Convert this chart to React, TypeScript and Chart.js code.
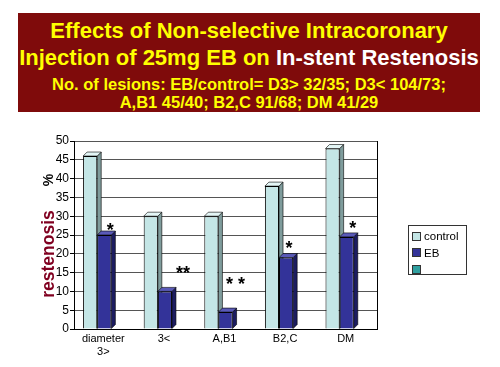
import { useEffect, useRef } from 'react';
import { Chart, registerables } from 'chart.js';
Chart.register(...registerables);

const categories: (string | string[])[] = [['diameter', '3>'], '3<', 'A,B1', 'B2,C', 'DM'];
const controlValues = [46, 30, 30, 38, 48];
const ebValues = [25, 10, 4.5, 19, 24.5];
const thirdValues: (number | null)[] = [null, null, null, null, null];
const seriesLabels = ['control', 'EB', ''];
const seriesColors = ['#c4e6e6', '#333399', '#2f9f9f'];
const sideColors = ['#7f9c9c', '#1c1c60', '#206060'];
const topColors = ['#e4f6f6', '#5a5ab8', '#50b0b0'];
const significance = ['*', '**', '* *', '*', '*'];
const significanceAt = [27.5, 16, 13, 22.5, 28];
const significanceShift = [6, 18, 10, 3, 6];
const yMax = 50;
const yStep = 5;

const FONT = '"Liberation Sans", Arial, sans-serif';

const App = () => {
  const ref = useRef<HTMLCanvasElement>(null);
  useEffect(() => {
    if (!ref.current) return;
    const depth = 4;
    const plugin = {
      id: 'threeD',
      beforeDatasetsDraw(chart: any) {
        const ctx = chart.ctx;
        const a = chart.chartArea;
        ctx.save();
        ctx.strokeStyle = '#000';
        ctx.lineWidth = 1;
        ctx.beginPath();
        ctx.moveTo(Math.round(a.right) + 0.5, a.top);
        ctx.lineTo(Math.round(a.right) + 0.5, a.bottom);
        ctx.stroke();
        [0, 1].forEach((di) => {
          const meta = chart.getDatasetMeta(di);
          meta.data.forEach((el: any) => {
            if (el.y == null || isNaN(el.y)) return;
            const w = el.width;
            const l = el.x - w / 2;
            const r = el.x + w / 2;
            const y = el.y;
            const b = el.base;
            ctx.lineWidth = 0.6;
            ctx.strokeStyle = '#000';
            ctx.fillStyle = sideColors[di];
            ctx.beginPath();
            ctx.moveTo(r, y);
            ctx.lineTo(r + depth, y - depth);
            ctx.lineTo(r + depth, b - depth);
            ctx.lineTo(r, b);
            ctx.closePath();
            ctx.fill();
            ctx.stroke();
            ctx.fillStyle = topColors[di];
            ctx.beginPath();
            ctx.moveTo(l, y);
            ctx.lineTo(l + depth, y - depth);
            ctx.lineTo(r + depth, y - depth);
            ctx.lineTo(r, y);
            ctx.closePath();
            ctx.fill();
            ctx.stroke();
          });
        });
        ctx.restore();
      },
      afterDatasetsDraw(chart: any) {
        const ctx = chart.ctx;
        const meta = chart.getDatasetMeta(1);
        const ys = chart.scales.y;
        ctx.save();
        ctx.fillStyle = '#000';
        ctx.font = `bold 18px ${FONT}`;
        ctx.textAlign = 'center';
        ctx.textBaseline = 'alphabetic';
        significance.forEach((s, i) => {
          const el = meta.data[i];
          const x = el.x + significanceShift[i];
          const y = ys.getPixelForValue(significanceAt[i]) + 10;
          ctx.fillText(s, x, y);
        });
        ctx.restore();
      },
    };
    const values = [controlValues, ebValues, thirdValues];
    const chart = new Chart(ref.current, {
      type: 'bar',
      data: {
        labels: categories,
        datasets: values.map((v, i) => ({
          label: seriesLabels[i],
          data: v,
          backgroundColor: seriesColors[i],
          borderColor: '#000',
          borderWidth: 1,
          categoryPercentage: 0.7,
          barPercentage: 1,
        })),
      },
      options: {
        animation: false,
        responsive: false,
        maintainAspectRatio: false,
        layout: { padding: { left: 0, right: 123, top: 141, bottom: 0 } },
        plugins: { legend: { display: false }, tooltip: { enabled: false }, title: { display: false } },
        scales: {
          x: {
            grid: { display: false, drawTicks: false },
            border: { color: '#000' },
            ticks: { color: '#000', font: { family: FONT, size: 11 }, padding: 3, maxRotation: 0, autoSkip: false, labelOffset: -1 },
            afterFit: (s: any) => { s.height = 38; },
          },
          y: {
            min: 0,
            max: yMax,
            grid: { color: '#555', tickLength: 4, tickColor: '#000' },
            border: { color: '#000' },
            ticks: { stepSize: yStep, color: '#000', font: { family: FONT, size: 12 }, padding: 1 },
            afterFit: (s: any) => { s.width = 74; },
          },
        },
      },
      plugins: [plugin],
    });
    return () => chart.destroy();
  }, []);

  const line = (top: number, size: number): any => ({
    position: 'absolute', left: 0, width: '100%', top, fontSize: size, lineHeight: `${size}px`, whiteSpace: 'nowrap',
  });

  return (
    <div style={{ position: 'absolute', left: 0, top: 0, width: 500, height: 367, background: '#fff', fontFamily: FONT }}>
      <div
        style={{
          position: 'absolute', left: 18, top: 13, width: 462, height: 99, background: '#7f0b0b',
          color: '#ffff00', fontWeight: 'bold', textAlign: 'center',
        }}
      >
        <div style={line(7, 22)}>Effects of Non-selective Intracoronary</div>
        <div style={line(34, 22)}>
          Injection of 25mg EB on <span style={{ color: '#ffffff' }}>In-stent Restenosis</span>
        </div>
        <div style={line(63, 16.5)}>No. of lesions: EB/control= D3&gt; 32/35; D3&lt; 104/73;</div>
        <div style={line(81, 16.5)}>A,B1 45/40; B2,C 91/68; DM 41/29</div>
      </div>
      <canvas ref={ref} width={500} height={367} style={{ position: 'absolute', left: 0, top: 0 }} />
      <div
        style={{
          position: 'absolute', left: 48, top: 254, transform: 'translate(-50%,-50%) rotate(-90deg)',
          color: '#800020', fontWeight: 'bold', fontSize: 17.5, whiteSpace: 'nowrap',
        }}
      >
        restenosis
      </div>
      <div
        style={{
          position: 'absolute', left: 48, top: 180, transform: 'translate(-50%,-50%) rotate(-90deg)',
          color: '#000', fontWeight: 'bold', fontSize: 14, whiteSpace: 'nowrap',
        }}
      >
        %
      </div>
      <div
        style={{
          position: 'absolute', left: 408, top: 225, width: 59, height: 50, border: '1px solid #333',
          boxSizing: 'border-box', background: '#fff',
        }}
      >
        {seriesLabels.map((l, i) => (
          <div key={i} style={{ position: 'absolute', left: 3, top: 3 + i * 16.5, height: 14, display: 'flex', alignItems: 'center' }}>
            <span style={{ display: 'inline-block', width: 7, height: 7, background: seriesColors[i], border: '1px solid #333', marginRight: 3 }} />
            <span style={{ fontSize: 11.5, color: '#000', whiteSpace: 'nowrap' }}>{l}</span>
          </div>
        ))}
      </div>
    </div>
  );
};

export default App;
